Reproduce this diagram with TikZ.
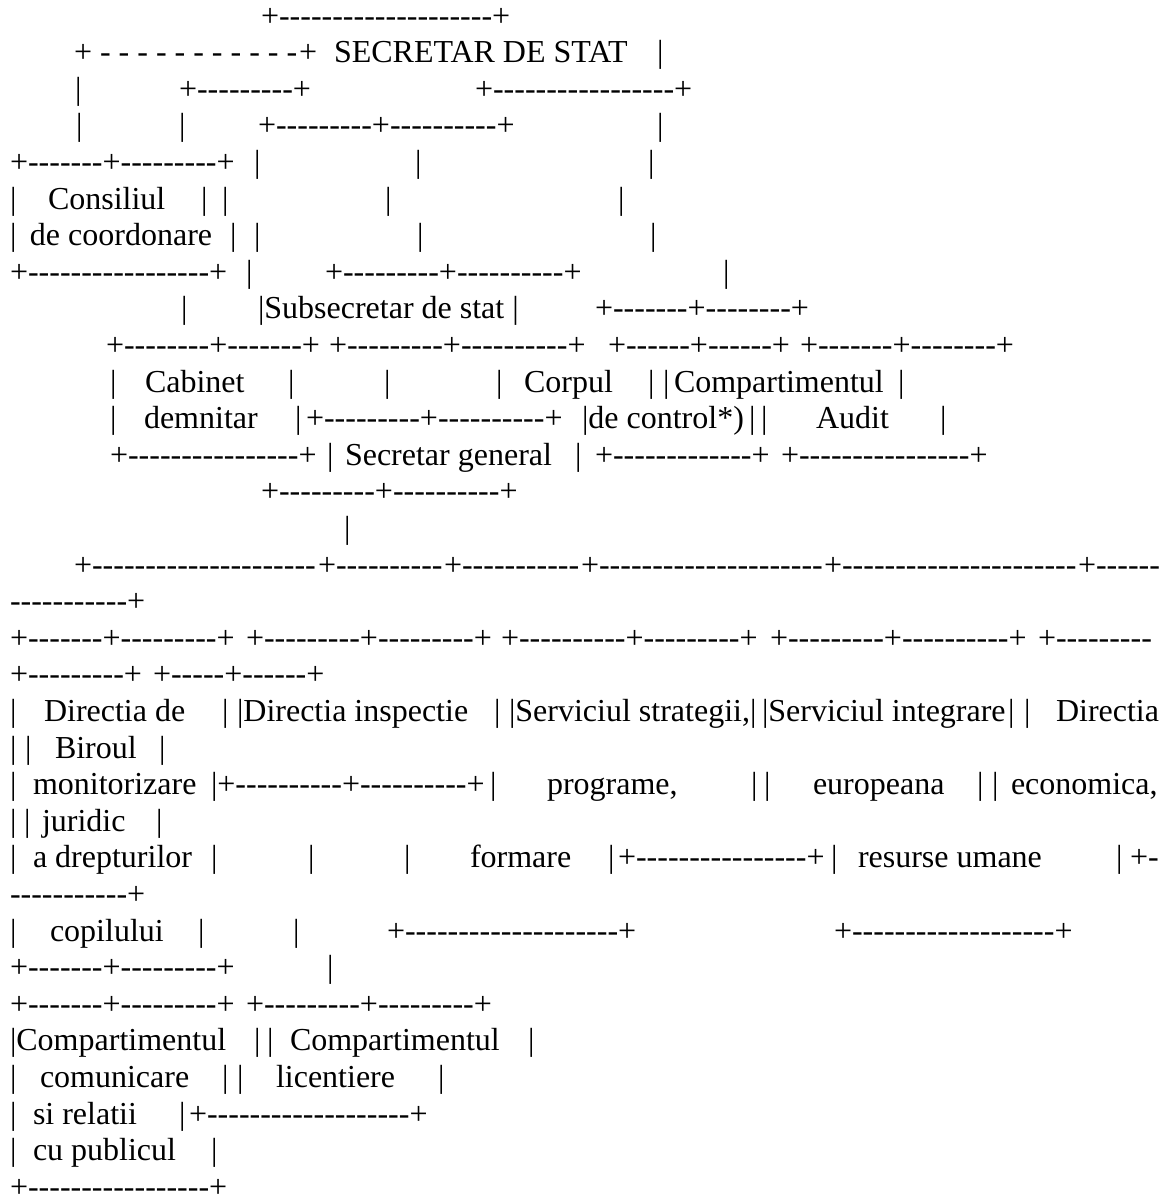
\documentclass[tikz,border=0pt]{standalone}
\usepackage{fontspec}
\setmainfont{Liberation Serif}
\newcount\dshcnt
\newcommand\dsh[1]{\dshcnt=#1\relax\loop\ifnum\dshcnt>0 \mbox{-}\advance\dshcnt-1\repeat}
\newcommand\seg[4]{\node[seg] (#1) at ({#3-1},{-(26+(#2-1)*36.6)}) {#4};}
\tikzset{seg/.style={anchor=base west, inner sep=0pt, outer sep=0pt, font=\fontsize{32}{36}\selectfont}}
\begin{document}
\begin{tikzpicture}[x=1pt,y=1pt]
\useasboundingbox (0,0) rectangle (1161,-1203);
\fill[white] (0,0) rectangle (1161,-1203);
% line 1
\seg{l1a}{1}{262}{+\dsh{20}+}
% line 2
\seg{l2a}{2}{75}{+ - - - - - - - - - - -}
\seg{l2b}{2}{300}{+}
\seg{l2c}{2}{335}{SECRETAR DE STAT}
\seg{l2d}{2}{658}{|}
% line 3
\seg{l3a}{3}{76}{|}
\seg{l3b}{3}{180}{+\dsh{9}+}
\seg{l3c}{3}{476}{+\dsh{17}+}
% line 4
\seg{l4a}{4}{77}{|}
\seg{l4b}{4}{180}{|}
\seg{l4c}{4}{259}{+\dsh{9}+\dsh{10}+}
\seg{l4d}{4}{658}{|}
% line 5
\seg{l5a}{5}{11}{+\dsh{7}+\dsh{9}+}
\seg{l5b}{5}{255}{|}
\seg{l5c}{5}{416}{|}
\seg{l5d}{5}{649}{|}
% line 6
\seg{l6a}{6}{11}{|}
\seg{l6b}{6}{49}{Consiliul}
\seg{l6c}{6}{202}{|}
\seg{l6d}{6}{223}{|}
\seg{l6e}{6}{386}{|}
\seg{l6f}{6}{619}{|}
% line 7
\seg{l7a}{7}{11}{|}
\seg{l7b}{7}{31}{de coordonare}
\seg{l7c}{7}{231}{|}
\seg{l7d}{7}{255}{|}
\seg{l7e}{7}{418}{|}
\seg{l7f}{7}{651}{|}
% line 8
\seg{l8a}{8}{11}{+\dsh{17}+}
\seg{l8b}{8}{247}{|}
\seg{l8c}{8}{326}{+\dsh{9}+\dsh{10}+}
\seg{l8d}{8}{724}{|}
% line 9
\seg{l9a}{9}{182}{|}
\seg{l9b}{9}{259}{|Subsecretar de stat |}
\seg{l9c}{9}{596}{+\dsh{7}+\dsh{8}+}
% line 10
\seg{l10a}{10}{107}{+\dsh{8}+\dsh{7}+}
\seg{l10b}{10}{330}{+\dsh{9}+\dsh{10}+}
\seg{l10c}{10}{609}{+\dsh{6}+\dsh{6}+}
\seg{l10d}{10}{801}{+\dsh{7}+\dsh{8}+}
% line 11
\seg{l11a}{11}{111}{|}
\seg{l11b}{11}{146}{Cabinet}
\seg{l11c}{11}{289}{|}
\seg{l11d}{11}{385}{|}
\seg{l11e}{11}{497}{|}
\seg{l11f}{11}{525}{Corpul}
\seg{l11g}{11}{649}{|}
\seg{l11h}{11}{664}{|}
\seg{l11i}{11}{675}{Compartimentul}
\seg{l11j}{11}{899}{|}
% line 12
\seg{l12a}{12}{111}{|}
\seg{l12b}{12}{145}{demnitar}
\seg{l12c}{12}{296}{|}
\seg{l12d}{12}{307}{+\dsh{9}+\dsh{10}+}
\seg{l12e}{12}{583}{|de control*)}
\seg{l12f}{12}{750}{|}
\seg{l12g}{12}{762}{|}
\seg{l12h}{12}{817}{Audit}
\seg{l12i}{12}{941}{|}
% line 13
\seg{l13a}{13}{111}{+\dsh{16}+}
\seg{l13b}{13}{328}{|}
\seg{l13c}{13}{346}{Secretar general}
\seg{l13d}{13}{576}{|}
\seg{l13e}{13}{596}{+\dsh{13}+}
\seg{l13f}{13}{782}{+\dsh{16}+}
% line 14
\seg{l14a}{14}{262}{+\dsh{9}+\dsh{10}+}
% line 15
\seg{l15a}{15}{345}{|}
% line 16
\seg{l16a}{16}{75}{+\dsh{21}}
\seg{l16b}{16}{319}{+\dsh{10}}
\seg{l16c}{16}{445}{+\dsh{11}}
\seg{l16d}{16}{582}{+\dsh{21}}
\seg{l16e}{16}{825}{+\dsh{22}}
\seg{l16f}{16}{1079}{+\dsh{6}}
% line 17
\seg{l17a}{17}{11}{\dsh{11}+}
% line 18
\seg{l18a}{18}{11}{+\dsh{7}+\dsh{9}+}
\seg{l18b}{18}{247}{+\dsh{9}+\dsh{9}+}
\seg{l18c}{18}{502}{+\dsh{10}+\dsh{9}+}
\seg{l18d}{18}{771}{+\dsh{9}+\dsh{10}+}
\seg{l18e}{18}{1039}{+\dsh{9}}
% line 19
\seg{l19a}{19}{11}{+\dsh{9}+}
\seg{l19b}{19}{154}{+\dsh{5}+\dsh{6}+}
% line 20
\seg{l20a}{20}{11}{|}
\seg{l20b}{20}{45}{Directia de}
\seg{l20c}{20}{223}{|}
\seg{l20d}{20}{238}{|Directia inspectie}
\seg{l20e}{20}{495}{|}
\seg{l20f}{20}{510}{|Serviciul strategii,|}
\seg{l20g}{20}{763}{|Serviciul integrare}
\seg{l20h}{20}{1009}{|}
\seg{l20i}{20}{1025}{|}
\seg{l20j}{20}{1057}{Directia}
% line 21
\seg{l21a}{21}{11}{|}
\seg{l21b}{21}{26}{|}
\seg{l21c}{21}{56}{Biroul}
\seg{l21d}{21}{160}{|}
% line 22
\seg{l22a}{22}{11}{|}
\seg{l22b}{22}{34}{monitorizare}
\seg{l22c}{22}{212}{|+\dsh{10}+\dsh{10}+}
\seg{l22d}{22}{491}{|}
\seg{l22e}{22}{548}{programe,}
\seg{l22f}{22}{752}{|}
\seg{l22g}{22}{765}{|}
\seg{l22h}{22}{814}{europeana}
\seg{l22i}{22}{978}{|}
\seg{l22j}{22}{993}{|}
\seg{l22k}{22}{1012}{economica,}
% line 23
\seg{l23a}{23}{11}{|}
\seg{l23b}{23}{25}{|}
\seg{l23c}{23}{43}{juridic}
\seg{l23d}{23}{157}{|}
% line 24
\seg{l24a}{24}{11}{|}
\seg{l24b}{24}{34}{a drepturilor}
\seg{l24c}{24}{212}{|}
\seg{l24d}{24}{309}{|}
\seg{l24e}{24}{405}{|}
\seg{l24f}{24}{471}{formare}
\seg{l24g}{24}{609}{|}
\seg{l24h}{24}{619}{+\dsh{16}+}
\seg{l24i}{24}{832}{|}
\seg{l24j}{24}{859}{resurse umane}
\seg{l24k}{24}{1117}{|}
\seg{l24l}{24}{1131}{+-}
% line 25
\seg{l25a}{25}{11}{\dsh{11}+}
% line 26
\seg{l26a}{26}{11}{|}
\seg{l26b}{26}{51}{copilului}
\seg{l26c}{26}{199}{|}
\seg{l26d}{26}{294}{|}
\seg{l26e}{26}{388}{+\dsh{20}+}
\seg{l26f}{26}{835}{+\dsh{19}+}
% line 27
\seg{l27a}{27}{11}{+\dsh{7}+\dsh{9}+}
\seg{l27b}{27}{328}{|}
% line 28
\seg{l28a}{28}{11}{+\dsh{7}+\dsh{9}+}
\seg{l28b}{28}{247}{+\dsh{9}+\dsh{9}+}
% line 29
\seg{l29a}{29}{11}{|Compartimentul}
\seg{l29b}{29}{255}{|}
\seg{l29c}{29}{268}{|}
\seg{l29d}{29}{291}{Compartimentul}
\seg{l29e}{29}{529}{|}
% line 30
\seg{l30a}{30}{11}{|}
\seg{l30b}{30}{41}{comunicare}
\seg{l30c}{30}{223}{|}
\seg{l30d}{30}{238}{|}
\seg{l30e}{30}{277}{licentiere}
\seg{l30f}{30}{439}{|}
% line 31
\seg{l31a}{31}{11}{|}
\seg{l31b}{31}{34}{si relatii}
\seg{l31c}{31}{180}{|}
\seg{l31d}{31}{190}{+\dsh{19}+}
% line 32
\seg{l32a}{32}{11}{|}
\seg{l32b}{32}{34}{cu publicul}
\seg{l32c}{32}{212}{|}
% line 33
\seg{l33a}{33}{11}{+\dsh{17}+}
\end{tikzpicture}
\end{document}
